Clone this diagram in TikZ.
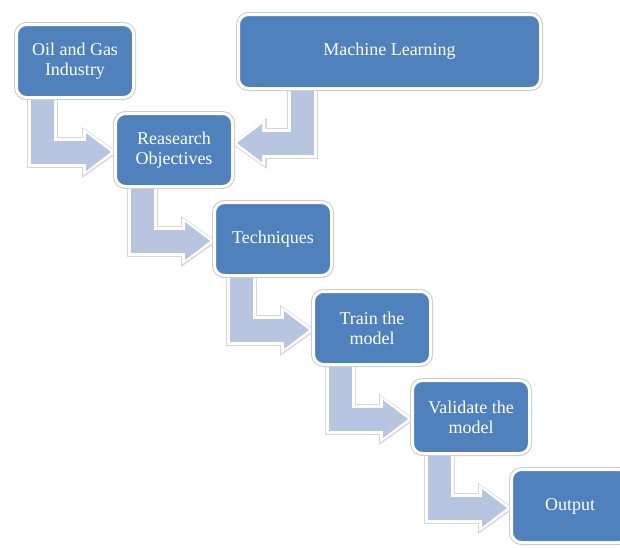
\documentclass[tikz,border=0pt]{standalone}
\usepackage{fontspec}
\setmainfont{Liberation Serif}
\usetikzlibrary{arrows.meta,positioning,shadows,backgrounds}

\definecolor{boxblue}{RGB}{79,129,189}
\definecolor{arrowblue}{RGB}{183,197,224}

\begin{document}
\begin{tikzpicture}[
    box/.style={draw=white, line width=3pt, fill=boxblue, rounded corners=10pt,
                align=center, text=white, font=\fontsize{18}{20}\selectfont,
                minimum width=117pt, minimum height=73pt,
                preaction={draw=black!20, line width=5pt},
                drop shadow={opacity=0.25, shadow xshift=1pt, shadow yshift=-1.5pt}},
    bent/.style={draw=arrowblue, line width=23pt,
                 -{Triangle[length=25pt 0 0, width=38pt 0 0, line width=0pt 0 0]},
                 preaction={draw=black!16, line width=31pt, shorten >=-6.5pt,
                            -{Triangle[length=36pt 0 0, width=51pt 0 0, line width=0pt 0 0]},
                            transform canvas={xshift=0.5pt, yshift=-0.5pt}},
                 preaction={draw=white, line width=29pt, shorten >=-5pt,
                            -{Triangle[length=33pt 0 0, width=47pt 0 0, line width=0pt 0 0]}}}
]
\useasboundingbox (0,0) rectangle (620pt,-547pt);

\node[box] (oil) at (75pt,-61pt) {Oil and Gas\\Industry};
\node[box, below right=13pt and -21pt of oil] (obj) {Reasearch\\Objectives};
\node[box, above right=22pt and 3pt of obj, minimum width=302pt, minimum height=74pt] (ml) {Machine Learning};
\node[box, below right=13pt and -21pt of obj] (tech) {Techniques};
\node[box, below right=13pt and -21pt of tech] (train) {Train the\\model};
\node[box, below right=13pt and -21pt of train] (valid) {Validate the\\model};
\node[box, below right=13pt and -21pt of valid] (out) {Output};

\begin{scope}[on background layer]
\draw[bent] ([xshift=27pt]oil.south west) |- ([xshift=-3pt,yshift=-2pt]obj.west);
\draw[bent] ([xshift=65pt]ml.south west) |- ([xshift=3pt,yshift=7pt]obj.east);
\draw[bent] ([xshift=28pt]obj.south west) |- ([xshift=-3pt,yshift=-2pt]tech.west);
\draw[bent] ([xshift=28pt]tech.south west) |- ([xshift=-3pt,yshift=-2pt]train.west);
\draw[bent] ([xshift=28pt]train.south west) |- ([xshift=-3pt,yshift=-2pt]valid.west);
\draw[bent] ([xshift=28pt]valid.south west) |- ([xshift=-3pt,yshift=-2pt]out.west);
\end{scope}
\end{tikzpicture}
\end{document}
